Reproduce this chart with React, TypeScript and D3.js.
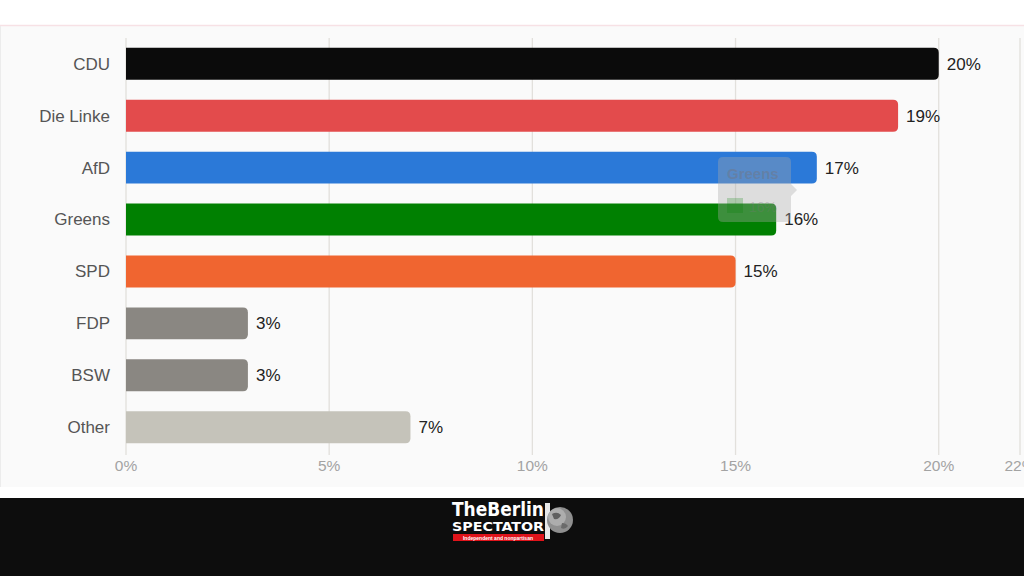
import React from "react";
import * as d3 from "d3";

const parties = ["CDU", "Die Linke", "AfD", "Greens", "SPD", "FDP", "BSW", "Other"];
const shares = [20, 19, 17, 16, 15, 3, 3, 7];
const colors = ["#0b0b0b", "#e34b4c", "#2b79d8", "#008001", "#f06530", "#8a8782", "#8a8782", "#c5c3ba"];
const ticks = [0, 5, 10, 15, 20, 22];

const W = 1024;
const H = 576;
const FONT = "'Liberation Sans', Arial, Helvetica, sans-serif";
const NARROW = "'Liberation Sans Narrow', 'DejaVu Sans Condensed', Arial, sans-serif";

export default function App() {
  const x = d3.scaleLinear().domain([0, 22]).range([126, 1020]);
  const y = d3
    .scaleBand<string>()
    .domain(parties)
    .range([38, 453])
    .paddingInner(0.385)
    .paddingOuter(0.19);
  const bh = y.bandwidth();
  const r = 5;

  const barPath = (v: number, top: number) => {
    const x0 = x(0);
    const x1 = x(v);
    const rr = Math.min(r, (x1 - x0) / 2);
    return `M${x0},${top}H${x1 - rr}Q${x1},${top} ${x1},${top + rr}V${top + bh - rr}Q${x1},${top + bh} ${x1 - rr},${top + bh}H${x0}Z`;
  };

  return (
    <div style={{ position: "fixed", left: 0, top: 0, width: W, height: H, background: "#fff" }}>
      <svg width={W} height={H} style={{ display: "block" }} fontFamily={FONT}>
        <rect x={0} y={0} width={W} height={H} fill="#ffffff" />
        {/* chart panel */}
        <rect x={0} y={25} width={W} height={462} fill="#fafafa" />
        <line x1={0} x2={W} y1={25.5} y2={25.5} stroke="#f7e1e5" strokeWidth={1.5} />
        <line x1={0.5} x2={0.5} y1={26} y2={487} stroke="#ececec" />

        {/* gridlines */}
        {ticks.map((t) => (
          <line
            key={t}
            x1={x(t)}
            x2={x(t)}
            y1={38}
            y2={455}
            stroke="#e2e0dc"
            strokeWidth={1.3}
          />
        ))}

        {/* bars */}
        {parties.map((p, i) => {
          const top = y(p)!;
          return (
            <g key={p}>
              <path d={barPath(shares[i], top)} fill={colors[i]} />
              <text
                x={110}
                y={top + bh / 2}
                dy="0.35em"
                textAnchor="end"
                fontSize={17}
                fill="#555555"
              >
                {p}
              </text>
              <text
                x={x(shares[i]) + 8}
                y={top + bh / 2}
                dy="0.35em"
                textAnchor="start"
                fontSize={17}
                fill="#222222"
              >
                {shares[i]}%
              </text>
            </g>
          );
        })}

        {/* tick labels */}
        {ticks.map((t) => (
          <text
            key={t}
            x={x(t)}
            y={466}
            dy="0.35em"
            textAnchor="middle"
            fontSize={15.5}
            fill="#a3a3a3"
          >
            {t}%
          </text>
        ))}

        {/* faded tooltip */}
        <g>
          <path
            d="M723,157H786Q791,157 791,162V184L797,190L791,196V217Q791,222 786,222H723Q718,222 718,217V162Q718,157 723,157Z"
            fill="rgba(170,170,170,0.36)"
          />
          <text x={727} y={179} fontSize={15} fontWeight="bold" fill="rgba(110,120,140,0.55)">
            Greens
          </text>
          <rect x={727} y={198} width={16} height={15} fill="rgba(0,128,1,0.22)" />
          <text x={749} y={212} fontSize={14} fill="rgba(120,120,120,0.3)">
            16%
          </text>
        </g>

        {/* footer */}
        <rect x={0} y={498} width={W} height={78} fill="#0d0d0d" />
        <g>
          <text
            x={452}
            y={516}
            fontSize={19}
            fontWeight="bold"
            fill="#ffffff"
            fontFamily={NARROW}
            textLength={92}
            lengthAdjust="spacingAndGlyphs"
          >
            TheBerlin
          </text>
          <text
            x={452}
            y={531}
            fontSize={13}
            fontWeight="bold"
            fill="#ffffff"
            fontFamily={NARROW}
            textLength={92}
            lengthAdjust="spacingAndGlyphs"
          >
            SPECTATOR
          </text>
          <rect x={453} y={534} width={91} height={7} fill="#e0141b" />
          <text
            x={498}
            y={539.8}
            fontSize={5}
            fontWeight="bold"
            fill="#ffffff"
            textAnchor="middle"
          >
            Independent and nonpartisan
          </text>
          <rect x={545} y={503} width={5} height={36} fill="#e8e8e8" />
          <circle cx={560} cy={520} r={13} fill="#8f8f8f" />
          <circle cx={557} cy={517} r={9} fill="#b9b9b9" opacity={0.7} />
          <path d="M552,514 q5,-3 9,1 q-2,5 -7,4 z" fill="#5f5f5f" />
          <path d="M562,523 q4,0 6,3 q-3,4 -7,2 z" fill="#6a6a6a" />
        </g>
      </svg>
    </div>
  );
}
